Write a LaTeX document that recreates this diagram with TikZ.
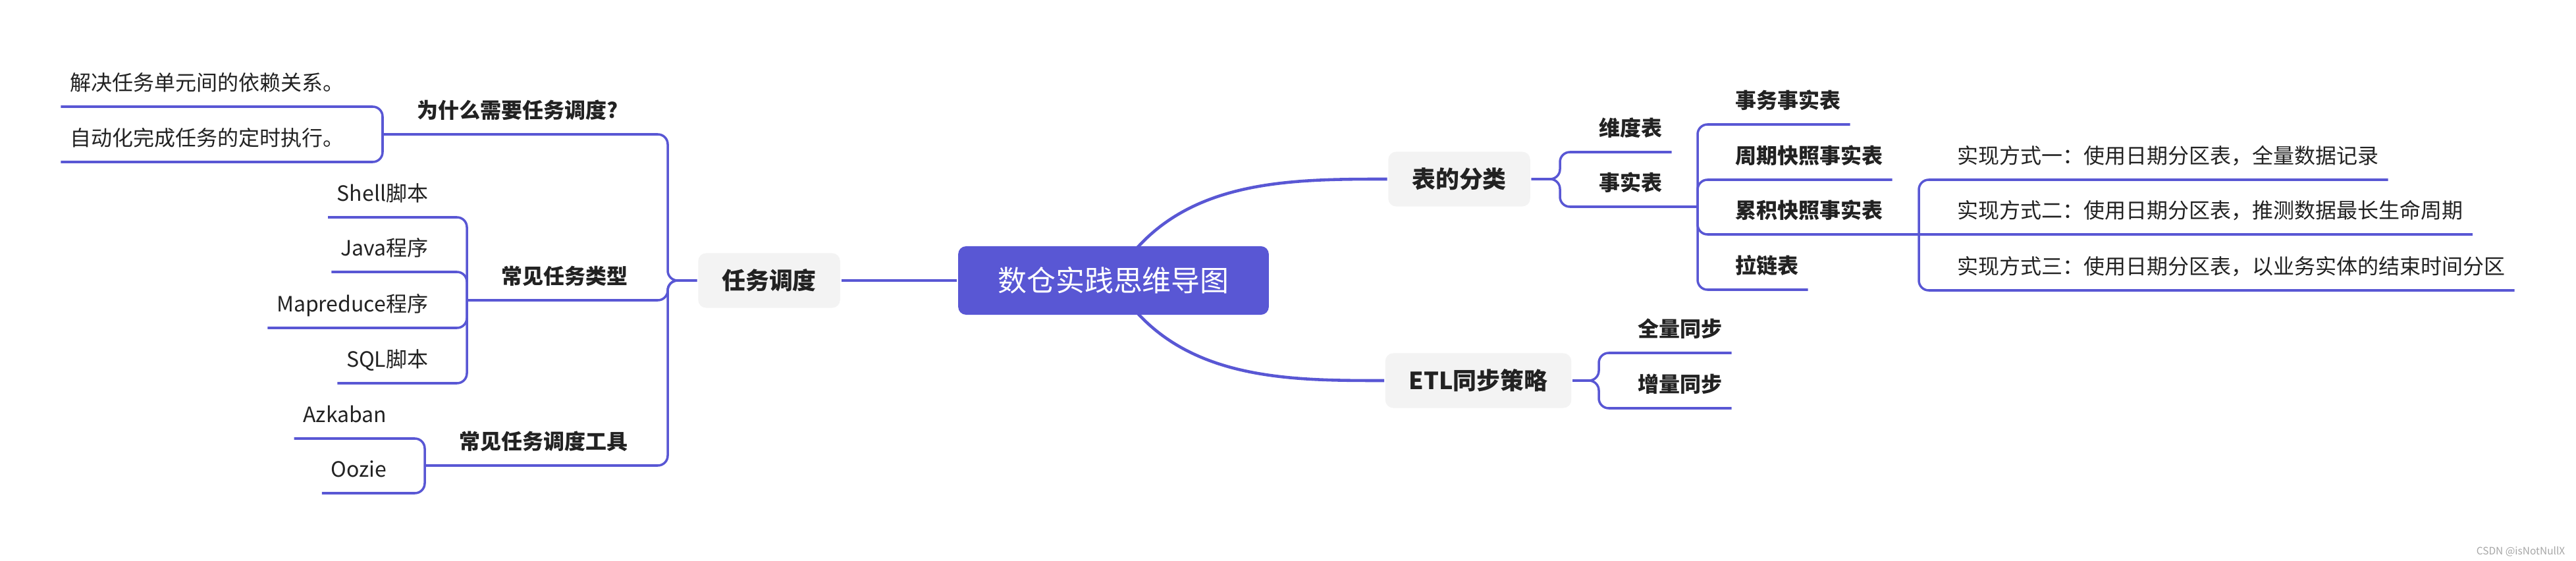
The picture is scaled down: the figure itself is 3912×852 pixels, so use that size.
\documentclass[tikz,border=0pt]{standalone}
\usepackage{fontspec}
\setmainfont{Noto Sans CJK SC}
\usetikzlibrary{backgrounds}
\definecolor{linea}{RGB}{89,87,212}
\definecolor{caja}{RGB}{243,243,243}
\definecolor{tinta}{RGB}{34,34,34}

\begin{document}
\begin{tikzpicture}[x=0.01cm,y=-0.01cm,line width=1pt,
  link/.style={draw=linea,rounded corners=0.15cm},
  leaf/.style={text=tinta,font=\fontsize{9.1pt}{11pt}\selectfont,inner xsep=0.12cm,inner ysep=0.16cm,text height=0.25cm,text depth=0.07cm},
  topic/.style={leaf,font=\fontsize{9.1pt}{11pt}\selectfont\bfseries},
  tbox/.style={fill=caja,rounded corners=0.12cm,text=tinta,font=\fontsize{10.2pt}{12pt}\selectfont\bfseries,inner xsep=0.36cm,minimum height=0.83cm,text height=0.3cm,text depth=0.03cm},
  rootbox/.style={fill=linea,rounded corners=0.12cm,text=white,font=\fontsize{12.5pt}{15pt}\selectfont,inner xsep=0.6cm,minimum height=1.04cm,text height=0.36cm,text depth=0.03cm}]
  \useasboundingbox (0,0) rectangle (3912,852);
  % centro
  \node[rootbox] (main) at (1691,426) {数仓实践思维导图};
  \node[tbox] (task) at (1168,426) {任务调度};
  \node[tbox] (cls) at (2216,272) {表的分类};
  \node[tbox] (etl) at (2245,578) {ETL同步策略};
  % izquierda
  \coordinate (jT) at (1014,426);
  \coordinate (jWhy) at (581,204);
  \coordinate (jType) at (709,456);
  \coordinate (jTool) at (645,707);
  \node[topic,anchor=south east] (why) at (952,204) {为什么需要任务调度?};
  \node[topic,anchor=south east] (type) at (967,456) {常见任务类型};
  \node[topic,anchor=south east] (tool) at (967,707) {常见任务调度工具};
  \node[leaf,anchor=south east] (a1) at (536,162) {解决任务单元间的依赖关系。};
  \node[leaf,anchor=south east] (a2) at (536,246) {自动化完成任务的定时执行。};
  \node[leaf,anchor=south east] (s1) at (664,330) {Shell脚本};
  \node[leaf,anchor=south east] (s2) at (664,413) {Java程序};
  \node[leaf,anchor=south east] (s3) at (664,498) {Mapreduce程序};
  \node[leaf,anchor=south east] (s4) at (664,582) {SQL脚本};
  \node[leaf,anchor=south east] (t1) at (601,666) {Azkaban};
  \node[leaf,anchor=south east] (t2) at (601,749) {Oozie};
  % derecha
  \coordinate (jCls) at (2369,272);
  \coordinate (jFact) at (2578,314);
  \coordinate (jAcc) at (2914,356);
  \coordinate (jEtl) at (2428,578);
  \node[topic,anchor=south west] (dim) at (2415,231) {维度表};
  \node[topic,anchor=south west] (fact) at (2415,314) {事实表};
  \node[topic,anchor=south west] (tx) at (2622,189) {事务事实表};
  \node[topic,anchor=south west] (per) at (2622,273) {周期快照事实表};
  \node[topic,anchor=south west] (acc) at (2622,356) {累积快照事实表};
  \node[topic,anchor=south west] (zip) at (2622,440) {拉链表};
  \node[leaf,anchor=south west] (m1) at (2959,273) {实现方式一：使用日期分区表，全量数据记录};
  \node[leaf,anchor=south west] (m2) at (2959,356) {实现方式二：使用日期分区表，推测数据最长生命周期};
  \node[leaf,anchor=south west] (m3) at (2959,441) {实现方式三：使用日期分区表，以业务实体的结束时间分区};
  \node[topic,anchor=south west] (full) at (2474,536) {全量同步};
  \node[topic,anchor=south west] (inc) at (2474,620) {增量同步};
  % ramas
  \draw[link] (main.west) -- (task.east);
  \foreach \j in {jWhy,jType,jTool} \draw[link] (task.west) -- (jT) |- (\j);
  \foreach \n in {a1,a2} \draw[link] (jWhy) |- (\n.south west);
  \foreach \n in {s1,s2,s3,s4} \draw[link] (jType) |- (\n.south west);
  \foreach \n in {t1,t2} \draw[link] (jTool) |- (\n.south west);
  \draw[link] (cls.east) -- (jCls) |- (dim.south east);
  \draw[link] (cls.east) -- (jCls) |- (jFact);
  \foreach \n in {tx,per,zip} \draw[link] (jFact) |- (\n.south east);
  \draw[link] (jFact) |- (jAcc);
  \foreach \n in {m1,m3} \draw[link] (jAcc) |- (\n.south east);
  \draw[link] (jAcc) -- (m2.south east);
  \foreach \n in {full,inc} \draw[link] (etl.east) -- (jEtl) |- (\n.south east);
  \begin{scope}[on background layer]
    \draw[link,line width=1.3pt] (main.center) .. controls (1780,272) and (1950,272) .. (cls.west);
    \draw[link,line width=1.3pt] (main.center) .. controls (1780,578) and (1950,578) .. (etl.west);
  \end{scope}
  % marca
  \node[anchor=east,text=gray!70,font=\fontsize{4.4pt}{5pt}\selectfont,inner sep=0pt] (mark) at (3897,838) {CSDN @isNotNullX};
\end{tikzpicture}
\end{document}
